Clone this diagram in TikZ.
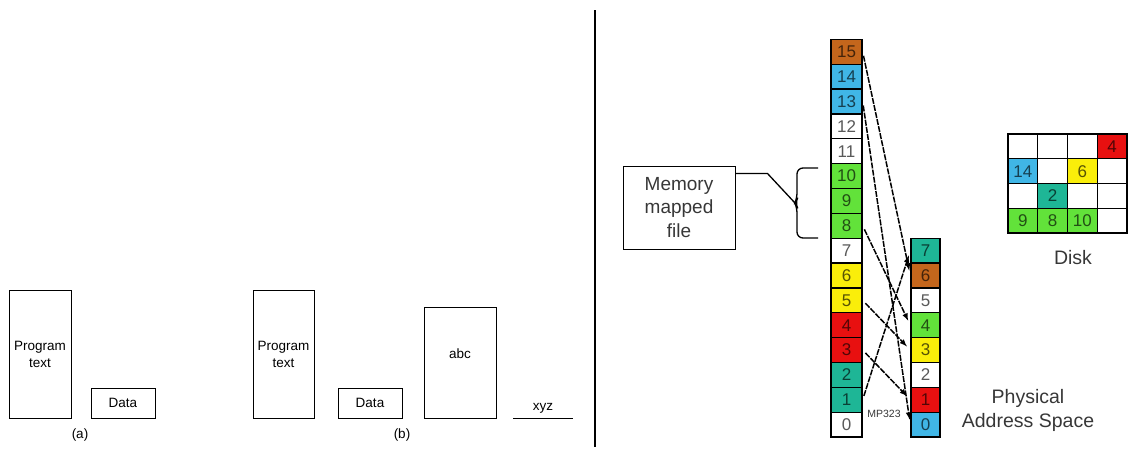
\documentclass[tikz,border=0pt]{standalone}
\usepackage{fontspec}
\setmainfont{Liberation Sans}
\usetikzlibrary{positioning, calc}

\definecolor{pgbrown}{RGB}{196,102,28}
\definecolor{pgcyan}{RGB}{64,182,230}
\definecolor{pggreen}{RGB}{98,226,58}
\definecolor{pgyellow}{RGB}{250,238,10}
\definecolor{pgred}{RGB}{232,16,16}
\definecolor{pgteal}{RGB}{30,182,150}
\definecolor{pgtext}{RGB}{55,55,55}

\begin{document}
\begin{tikzpicture}[x=1pt, y=-1pt,
    seg/.style = {draw, line width=0.9pt, inner sep=0pt, align=center, font=\fontsize{13.5}{17}\selectfont},
    cell/.style = {draw, line width=1.3pt, inner sep=0pt, minimum height=24.85pt, font=\fontsize{17}{17}\selectfont},
    vcell/.style = {cell, minimum width=31pt},
    pcell/.style = {cell, minimum width=29pt},
    dcell/.style = {cell, minimum width=29.75pt, minimum height=24.75pt},
    map/.style = {-latex, line width=1.5pt, dash pattern=on 6pt off 1.2pt, shorten <=4pt, shorten >=5pt},
    big/.style = {text=pgtext, align=center, font=\fontsize{19.5}{24}\selectfont}]

\useasboundingbox (0,0) rectangle (1130,451);

%segments, one address space
        \node[seg, minimum width=62pt, minimum height=128pt] (PA) at (40,354) {Program\\text};
        \node[seg, minimum width=64pt, minimum height=30pt] (DA) at (123,403) {Data};
        \node[font=\fontsize{13.5}{14}\selectfont] (LA) at (80,435) {(a)};

%segments, mapped file
        \node[seg, minimum width=61pt, minimum height=128pt] (PB) at (283.5,354) {Program\\text};
        \node[seg, minimum width=64pt, minimum height=30pt] (DB) at (370,403) {Data};
        \node[seg, minimum width=72pt, minimum height=111pt] (F) at (460,362.5) {};
        \node[font=\fontsize{13.5}{14}\selectfont] (FT) at ($(F.center)+(0,-9)$) {abc};
        \coordinate (XL) at (513,418);
        \coordinate (XR) at (573,418);
        \draw[line width=0.9pt] (XL) -- (XR);
        \node[font=\fontsize{13.5}{14}\selectfont, anchor=south] (XT) at ($(XL)!0.5!(XR)+(0,-1)$) {xyz};
        \node[font=\fontsize{13.5}{14}\selectfont] (LB) at (402,435) {(b)};

        \draw[line width=2.5pt] (595,10) -- (595,447);

%virtual pages
        \foreach \i/\c in {0/white, 1/pgteal, 2/pgteal, 3/pgred, 4/pgred, 5/pgyellow, 6/pgyellow, 7/white,
                8/pggreen, 9/pggreen, 10/pggreen, 11/white, 12/white, 13/pgcyan, 14/pgcyan, 15/pgbrown}
            \node[vcell, fill=\c, text=\c!35!black] (v\i) at (846.5, {424.6-\i*24.85}) {\i};

%page frames
        \foreach \i/\c in {0/pgcyan, 1/pgred, 2/white, 3/pgyellow, 4/pggreen, 5/white, 6/pgbrown, 7/pgteal}
            \node[pcell, fill=\c, text=\c!35!black] (p\i) at (925.5, {424.6-\i*24.85}) {\i};

        \node[big, anchor=north] (PAS) at (1028,386) {Physical\\Address Space};

%page table
        \draw[map] (v15.east) -- (p6.west);
        \draw[map] (v13.east) -- (p0.west);
        \draw[map] (v8.east) -- (p4.west);
        \draw[map] (v5.east) -- (p3.west);
        \draw[map] (v3.east) -- (p1.west);
        \draw[map] (v1.east) -- (p7.west);
        \node[text=pgtext, font=\fontsize{10.5}{10}\selectfont, inner sep=1pt] (MP) at (884,414) {MP323};

%memory mapped file
        \node[draw, line width=1pt, minimum width=112pt, minimum height=83pt, inner sep=0pt, big,
              font=\fontsize{19}{23.5}\selectfont] (MMF) at (679,207.5) {Memory\\mapped\\file};
        \coordinate (T) at (795,203);
        \draw[line width=1.3pt, rounded corners=6pt] (818,168) -- (797,168) -- (797,199) -- (T) -- (797,207) -- (797,238) -- (818,238);
        \draw[line width=1.3pt] ([yshift=-8pt]MMF.north east) -- ++(32,0) -- (T);

%disk
        \foreach \r in {0,...,3}
            \foreach \k in {0,...,3}
                \node[dcell, fill=white] (d\r\k) at ({1022.9+\k*29.75}, {146.4+\r*24.75}) {};
        \foreach \r/\k/\c/\n in {0/3/pgred/4, 1/0/pgcyan/14, 1/2/pgyellow/6, 2/1/pgteal/2,
                3/0/pggreen/9, 3/1/pggreen/8, 3/2/pggreen/10}
            \node[dcell, fill=\c, text=\c!35!black] (k\n) at (d\r\k) {\n};
        \node[big] (DK) at (1073,258) {Disk};

\end{tikzpicture}
\end{document}
